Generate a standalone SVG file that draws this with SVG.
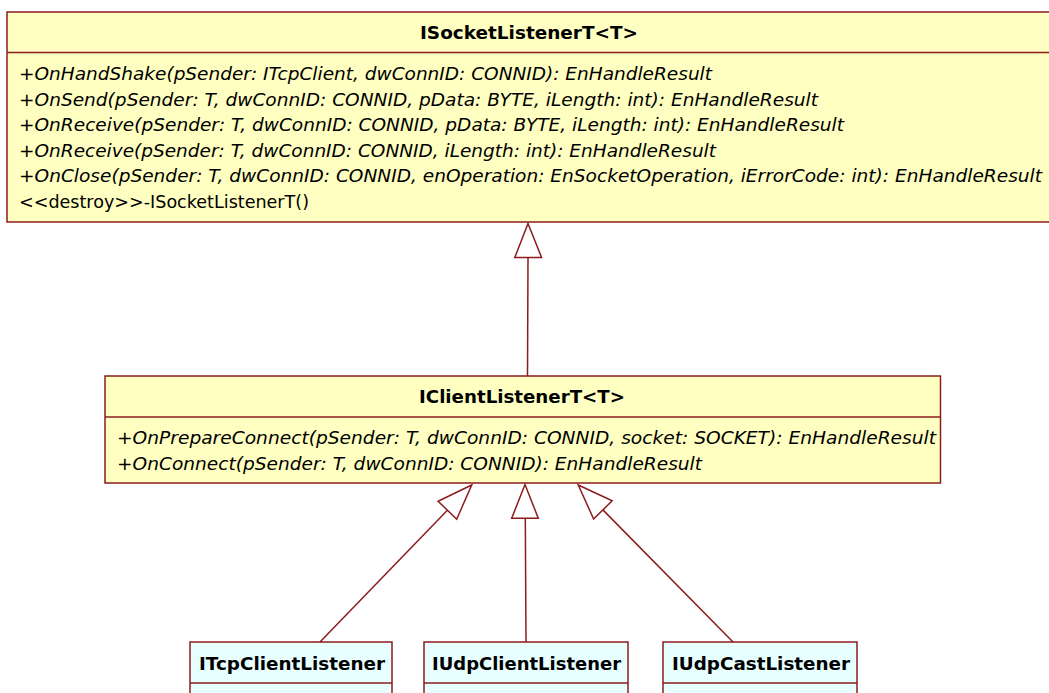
<svg xmlns="http://www.w3.org/2000/svg" width="1049" height="693" viewBox="0 0 1049 693">
<style>
.box{stroke:#8c1c1c;stroke-width:1.5}
.y{fill:#ffffc1}
.c{fill:#e8ffff}
.sep{stroke:#8c1c1c;stroke-width:1.5}
text{font-family:"DejaVu Sans","Liberation Sans",sans-serif;fill:#000}
.t{font-size:17px;font-weight:bold}
.m{font-size:17.5px;font-style:italic}
.n{font-size:17.5px}
.con{stroke:#8c1c1c;stroke-width:1.5;fill:none}
.tri{stroke:#8c1c1c;stroke-width:1.5;fill:#fff}
</style>
<rect width="1049" height="693" fill="#fff"/>
<g id="ISocketListenerT">
<rect class="box y" x="7" y="12" width="1046" height="210"/>
<line class="sep" x1="7" y1="52.5" x2="1053" y2="52.5"/>
<text class="t" x="420" y="38.5" textLength="218" lengthAdjust="spacingAndGlyphs">ISocketListenerT&lt;T&gt;</text>
<text class="m" x="19" y="80" textLength="693" lengthAdjust="spacingAndGlyphs">+OnHandShake(pSender: ITcpClient, dwConnID: CONNID): EnHandleResult</text>
<text class="m" x="19" y="105.5" textLength="799" lengthAdjust="spacingAndGlyphs">+OnSend(pSender: T, dwConnID: CONNID, pData: BYTE, iLength: int): EnHandleResult</text>
<text class="m" x="19" y="131" textLength="825" lengthAdjust="spacingAndGlyphs">+OnReceive(pSender: T, dwConnID: CONNID, pData: BYTE, iLength: int): EnHandleResult</text>
<text class="m" x="19" y="156.5" textLength="697" lengthAdjust="spacingAndGlyphs">+OnReceive(pSender: T, dwConnID: CONNID, iLength: int): EnHandleResult</text>
<text class="m" x="19" y="182" textLength="1023" lengthAdjust="spacingAndGlyphs">+OnClose(pSender: T, dwConnID: CONNID, enOperation: EnSocketOperation, iErrorCode: int): EnHandleResult</text>
<text class="n" x="19" y="207.5" textLength="290" lengthAdjust="spacingAndGlyphs">&lt;&lt;destroy&gt;&gt;-ISocketListenerT()</text>
</g>
<g id="IClientListenerT">
<rect class="box y" x="105" y="376" width="835.5" height="107"/>
<line class="sep" x1="105" y1="417" x2="940.5" y2="417"/>
<text class="t" x="419" y="402.5" textLength="206" lengthAdjust="spacingAndGlyphs">IClientListenerT&lt;T&gt;</text>
<text class="m" x="117" y="444" textLength="819" lengthAdjust="spacingAndGlyphs">+OnPrepareConnect(pSender: T, dwConnID: CONNID, socket: SOCKET): EnHandleResult</text>
<text class="m" x="117" y="469.5" textLength="585" lengthAdjust="spacingAndGlyphs">+OnConnect(pSender: T, dwConnID: CONNID): EnHandleResult</text>
</g>
<g id="ITcpClientListener">
<rect class="box c" x="190" y="642" width="202" height="70"/>
<line class="sep" x1="190" y1="683" x2="392" y2="683"/>
<text class="t" x="199" y="670" textLength="186" lengthAdjust="spacingAndGlyphs">ITcpClientListener</text>
</g>
<g id="IUdpClientListener">
<rect class="box c" x="424" y="642" width="204" height="70"/>
<line class="sep" x1="424" y1="683" x2="628" y2="683"/>
<text class="t" x="432" y="670" textLength="189" lengthAdjust="spacingAndGlyphs">IUdpClientListener</text>
</g>
<g id="IUdpCastListener">
<rect class="box c" x="663" y="642" width="194" height="70"/>
<line class="sep" x1="663" y1="683" x2="857" y2="683"/>
<text class="t" x="672" y="670" textLength="178" lengthAdjust="spacingAndGlyphs">IUdpCastListener</text>
</g>
<g id="connectors">
<line class="con" x1="527.5" y1="376" x2="528" y2="257.5"/>
<polygon class="tri" points="528,223.5 514.8,257.5 541.6,257.5"/>
<line class="con" x1="526" y1="642" x2="525.3" y2="518.3"/>
<polygon class="tri" points="525,484.5 511.7,518.3 538.3,518.3"/>
<line class="con" x1="320" y1="642" x2="447.4" y2="510.2"/>
<polygon class="tri" points="471.7,485 438.1,501.2 456.7,519.2"/>
<line class="con" x1="733" y1="642" x2="602.9" y2="509.9"/>
<polygon class="tri" points="578.3,485 612.2,500.8 593.6,519"/>
</g>
</svg>
